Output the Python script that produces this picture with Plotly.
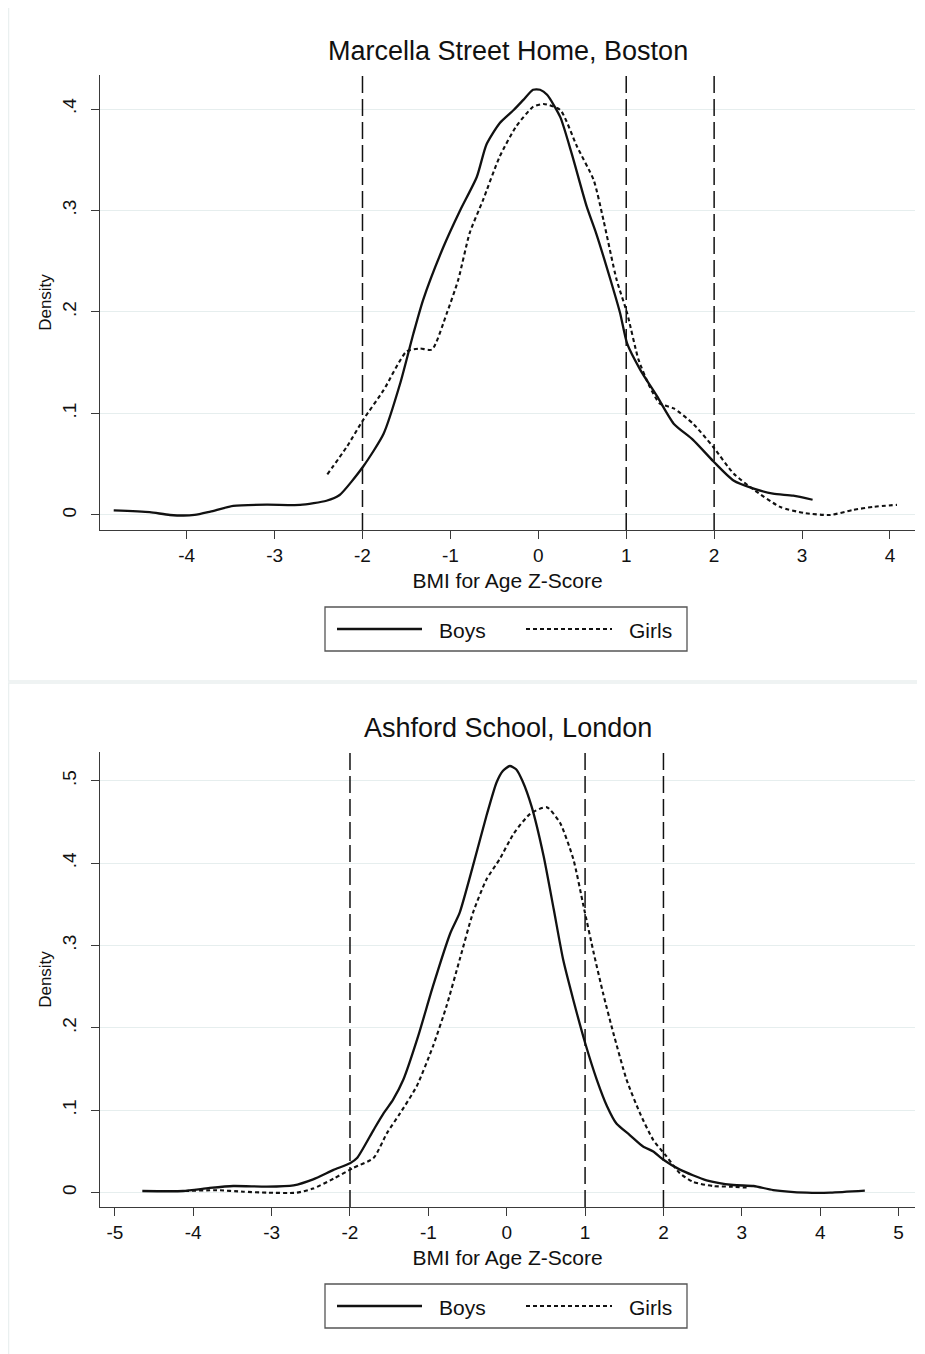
import plotly.graph_objects as go

# page body has an 8px default margin, so the figure is drawn 8px in
PAGE_W, PAGE_H, BODY = 925, 1354, 8
W, H = PAGE_W - BODY, PAGE_H - BODY

# ---------------- data ----------------
titles = ["Marcella Street Home, Boston", "Ashford School, London"]
x_title = "BMI for Age Z-Score"
y_title = "Density"
series_names = ["Boys", "Girls"]
cutoffs = [-2, 1, 2]

top_xticks = [-4, -3, -2, -1, 0, 1, 2, 3, 4]
bot_xticks = [-5, -4, -3, -2, -1, 0, 1, 2, 3, 4, 5]
top_yticks = [0, 0.1, 0.2, 0.3, 0.4]
top_yticktext = ["0", ".1", ".2", ".3", ".4"]
bot_yticks = [0, 0.1, 0.2, 0.3, 0.4, 0.5]
bot_yticktext = ["0", ".1", ".2", ".3", ".4", ".5"]

boston_boys_x = [-4.83, -4.42, -4.19, -3.91, -3.73, -3.47, -3.09, -2.71, -2.41, -2.26,
                 -1.99, -1.76, -1.57, -1.42, -1.31, -1.08, -0.89, -0.70, -0.59, -0.44,
                 -0.28, -0.17, -0.06, 0.02, 0.10, 0.25, 0.38, 0.55, 0.66, 0.82,
                 0.93, 1.01, 1.16, 1.35, 1.54, 1.76, 1.99, 2.22, 2.45, 2.67, 2.90, 3.12]
boston_boys_y = [0.0045, 0.0028, 0.0, 0.0, 0.0033, 0.0089, 0.0102, 0.0099, 0.014, 0.0197,
                 0.048, 0.080, 0.130, 0.179, 0.212, 0.264, 0.300, 0.333, 0.365, 0.386,
                 0.399, 0.409, 0.419, 0.419, 0.414, 0.392, 0.356, 0.304, 0.277, 0.232,
                 0.199, 0.169, 0.143, 0.117, 0.090, 0.074, 0.053, 0.034, 0.026, 0.021, 0.019, 0.015]

boston_girls_x = [-2.40, -2.18, -1.99, -1.76, -1.50, -1.35, -1.21, -1.04, -0.91, -0.78,
                  -0.63, -0.44, -0.25, -0.06, 0.06, 0.25, 0.44, 0.63, 0.74, 0.89,
                  1.01, 1.14, 1.27, 1.38, 1.54, 1.76, 1.99, 2.22, 2.45, 2.75,
                  3.02, 3.32, 3.58, 3.81, 4.08]
boston_girls_y = [0.040, 0.067, 0.094, 0.123, 0.161, 0.164, 0.163, 0.199, 0.232, 0.278,
                  0.310, 0.353, 0.383, 0.402, 0.405, 0.399, 0.363, 0.330, 0.291, 0.232,
                  0.199, 0.153, 0.126, 0.110, 0.105, 0.090, 0.067, 0.041, 0.025, 0.008,
                  0.002, 0.0, 0.005, 0.008, 0.010]

london_boys_x = [-4.65, -4.13, -3.79, -3.49, -3.06, -2.72, -2.47, -2.21, -2.0, -1.91,
                 -1.70, -1.57, -1.45, -1.32, -1.13, -0.94, -0.72, -0.60, -0.43, -0.26,
                 -0.13, -0.05, 0.04, 0.12, 0.20, 0.32, 0.47, 0.60, 0.72, 0.85,
                 1.0, 1.15, 1.28, 1.40, 1.57, 1.74, 1.87, 2.0, 2.21, 2.55,
                 2.89, 3.15, 3.40, 3.83, 4.13, 4.57]
london_boys_y = [0.002, 0.002, 0.0057, 0.0081, 0.0073, 0.0089, 0.0162, 0.0276, 0.0357, 0.042,
                 0.076, 0.0965, 0.113, 0.137, 0.190, 0.251, 0.315, 0.340, 0.397, 0.457,
                 0.498, 0.512, 0.518, 0.514, 0.500, 0.468, 0.409, 0.344, 0.283, 0.234,
                 0.182, 0.137, 0.105, 0.084, 0.070, 0.056, 0.050, 0.040, 0.028, 0.015,
                 0.0093, 0.0081, 0.0032, 0.0, 0.0, 0.0024]

london_girls_x = [-4.64, -4.13, -3.70, -3.36, -3.06, -2.68, -2.47, -2.21, -1.96, -1.70,
                  -1.53, -1.36, -1.15, -0.94, -0.77, -0.60, -0.43, -0.26, -0.09, 0.09,
                  0.30, 0.51, 0.68, 0.85, 0.98, 1.11, 1.23, 1.36, 1.53, 1.70,
                  1.87, 2.04, 2.21, 2.38, 2.64, 2.85, 3.10]
london_girls_y = [0.002, 0.002, 0.003, 0.0012, 0.0, 0.0, 0.005, 0.017, 0.030, 0.042,
                  0.072, 0.0965, 0.129, 0.178, 0.226, 0.283, 0.340, 0.380, 0.405, 0.436,
                  0.460, 0.468, 0.449, 0.405, 0.348, 0.291, 0.242, 0.194, 0.137, 0.0965,
                  0.064, 0.044, 0.0235, 0.013, 0.008, 0.0073, 0.006]

# ---------------- styling / layout ----------------
FONT = "Liberation Sans, Arial, Helvetica, sans-serif"
INK = "#111111"
AXIS = "#3a3a3a"
GRID = "#e6eeee"


def px(xp):
    """page pixel x -> paper fraction"""
    return (xp - BODY) / W


def py(yp):
    """page pixel y -> paper fraction"""
    return 1 - (yp - BODY) / H


fig = go.Figure()

panels = [
    dict(xa="x", ya="y", boys=(boston_boys_x, boston_boys_y), girls=(boston_girls_x, boston_girls_y),
         off=0, xr=[-4.986, 4.285], yr=[-0.0148, 0.4335], xt=top_xticks,
         yt=top_yticks, ytt=top_yticktext),
    dict(xa="x2", ya="y2", boys=(london_boys_x, london_boys_y), girls=(london_girls_x, london_girls_y),
         off=677, xr=[-5.19, 5.21], yr=[-0.0174, 0.535], xt=bot_xticks,
         yt=bot_yticks, ytt=bot_yticktext),
]

for p in panels:
    fig.add_trace(go.Scatter(x=p["boys"][0], y=p["boys"][1], xaxis=p["xa"], yaxis=p["ya"],
                             mode="lines", name=series_names[0], showlegend=False,
                             line=dict(color=INK, width=2.3, shape="spline", smoothing=0.6)))
    fig.add_trace(go.Scatter(x=p["girls"][0], y=p["girls"][1], xaxis=p["xa"], yaxis=p["ya"],
                             mode="lines", name=series_names[1], showlegend=False,
                             line=dict(color=INK, width=2.1, dash="4px,3px", shape="spline", smoothing=0.6)))

shapes = []
annotations = []
layout_axes = {}

for i, p in enumerate(panels):
    o = p["off"]
    xkey = "xaxis" if i == 0 else "xaxis2"
    ykey = "yaxis" if i == 0 else "yaxis2"
    layout_axes[xkey] = dict(
        domain=[px(100), px(915)], range=p["xr"], anchor=p["ya"],
        tickvals=p["xt"], ticktext=[str(v) for v in p["xt"]],
        ticks="outside", ticklen=8, tickwidth=1.2, tickcolor=AXIS,
        showline=True, linecolor=AXIS, linewidth=1.2, showgrid=False, zeroline=False,
        tickfont=dict(family=FONT, size=19, color=INK),
        title=dict(text=x_title, font=dict(family=FONT, size=21, color=INK), standoff=8),
        automargin=False,
    )
    layout_axes[ykey] = dict(
        domain=[py(530 + o), py(75 + o)], range=p["yr"], anchor=p["xa"],
        tickvals=p["yt"], ticktext=p["ytt"], tickangle=-90, ticklabelstandoff=7,
        ticks="outside", ticklen=8, tickwidth=1.2, tickcolor=AXIS,
        showline=True, linecolor=AXIS, linewidth=1.2,
        showgrid=True, gridcolor=GRID, gridwidth=1.2, zeroline=False,
        tickfont=dict(family=FONT, size=19, color=INK),
        title=dict(text=y_title, font=dict(family=FONT, size=17, color=INK), standoff=3),
        automargin=False,
    )
    # reference cut-off lines
    for c in cutoffs:
        shapes.append(dict(type="line", xref=p["xa"], yref=p["ya"] + " domain",
                           x0=c, x1=c, y0=0, y1=1,
                           line=dict(color=INK, width=1.5, dash="17px,6px")))
    # panel title
    annotations.append(dict(text=titles[i], xref="paper", yref="paper",
                            x=px(507.5), y=py(51 + o), xanchor="center", yanchor="middle",
                            showarrow=False, font=dict(family=FONT, size=27, color=INK)))
    # faint panel frame
    shapes.append(dict(type="rect", xref="paper", yref="paper",
                       x0=px(8.5), x1=px(940), y0=py(681 + o), y1=py(6 + o),
                       line=dict(color="#eaf0f0", width=1.5)))
    # legend box
    shapes.append(dict(type="rect", xref="paper", yref="paper",
                       x0=px(325), x1=px(687), y0=py(651 + o), y1=py(607 + o),
                       line=dict(color="#555555", width=1.3), fillcolor="white"))
    shapes.append(dict(type="line", xref="paper", yref="paper",
                       x0=px(337), x1=px(422), y0=py(629 + o), y1=py(629 + o),
                       line=dict(color=INK, width=2.3)))
    shapes.append(dict(type="line", xref="paper", yref="paper",
                       x0=px(526), x1=px(612), y0=py(629 + o), y1=py(629 + o),
                       line=dict(color=INK, width=2.1, dash="4px,3px")))
    annotations.append(dict(text=series_names[0], xref="paper", yref="paper",
                            x=px(437), y=py(630 + o), xanchor="left", yanchor="middle",
                            showarrow=False, font=dict(family=FONT, size=21, color=INK)))
    annotations.append(dict(text=series_names[1], xref="paper", yref="paper",
                            x=px(627), y=py(630 + o), xanchor="left", yanchor="middle",
                            showarrow=False, font=dict(family=FONT, size=21, color=INK)))

fig.update_layout(
    width=W, height=H,
    margin=dict(l=0, r=0, t=0, b=0),
    paper_bgcolor="white", plot_bgcolor="white",
    showlegend=False,
    shapes=shapes, annotations=annotations,
    **layout_axes,
)

fig.write_html("out.html")
